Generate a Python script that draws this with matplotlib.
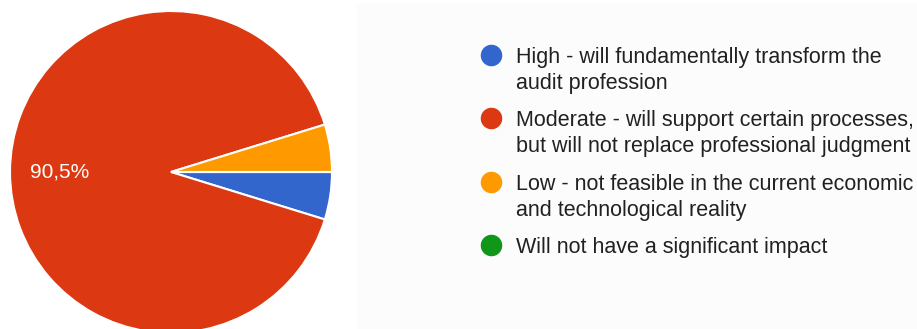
import matplotlib.pyplot as plt
from matplotlib.patches import Rectangle

# survey answers (count of respondents)
labels = [
    "High - will fundamentally transform the\naudit profession",
    "Moderate - will support certain processes,\nbut will not replace professional judgment",
    "Low - not feasible in the current economic\nand technological reality",
    "Will not have a significant impact",
]
counts = [2, 38, 2, 0]
colors = ["#3366cc", "#dc3912", "#ff9900", "#109618"]

W, H = 917, 329
fig = plt.figure(figsize=(W / 100, H / 100), dpi=100)
ax = fig.add_axes([0, 0, 1, 1])
ax.set_xlim(0, W)
ax.set_ylim(0, H)
ax.set_aspect("equal")
ax.axis("off")

plt.rcParams["font.family"] = ["Liberation Sans", "DejaVu Sans"]

# faint panel behind the legend
ax.add_patch(Rectangle((357, 0), W - 357, H - 3, color="#fcfcfc", zorder=0))


def pct_label(p):
    # small slices stay unlabeled
    if p < 10:
        return ""
    return f"{p:.1f}%".replace(".", ",")


wedges, _, autotexts = ax.pie(
    counts, colors=colors, startangle=0, counterclock=False,
    center=(171, H - 172), radius=161, autopct=pct_label,
    pctdistance=0.69, frame=True,
    wedgeprops=dict(edgecolor="white", linewidth=1.5),
)
ax.set_xlim(0, W)
ax.set_ylim(0, H)
ax.axis("off")
for t in autotexts:
    t.set_color("white")
    t.set_fontsize(15)

# legend: dot + wrapped text
marker_y = [55, 118, 182, 245]
for lab, col, my in zip(labels, colors, marker_y):
    ax.scatter([491], [H - my], s=210, color=col, zorder=3)
    ax.text(516, H - my + 8, lab, fontsize=15.5, color="#212121",
            va="top", ha="left", linespacing=1.3)

fig.savefig("out.png", dpi=100)
